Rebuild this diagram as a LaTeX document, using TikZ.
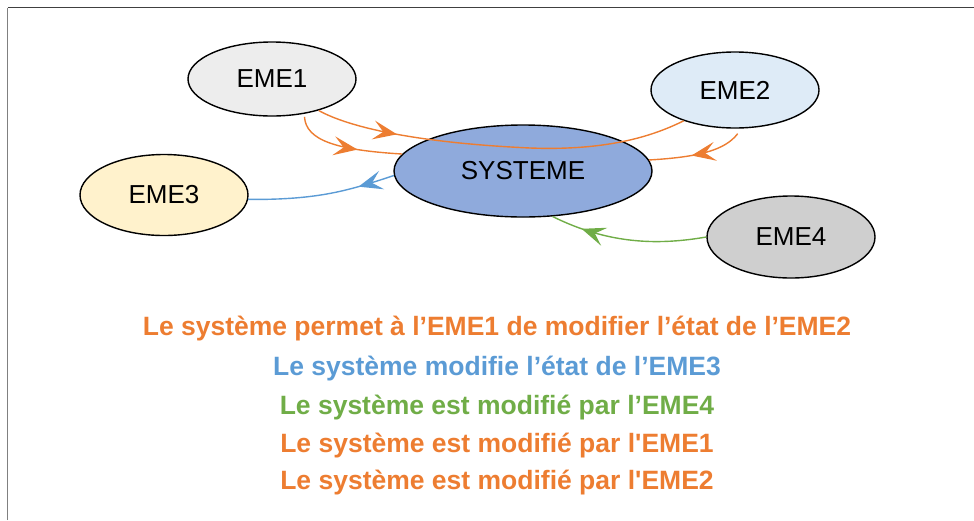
\documentclass[tikz,border=0pt]{standalone}
\usepackage{fontspec}
\setmainfont{Liberation Sans}
\usetikzlibrary{shapes.geometric,arrows.meta,decorations.markings}

\definecolor{emeorange}{HTML}{ED7D31}
\definecolor{emeblue}{HTML}{5B9BD5}
\definecolor{emegreen}{HTML}{70AD47}
\definecolor{sysfill}{HTML}{8FAADC}
\definecolor{eme3fill}{HTML}{FFF2CC}

\begin{document}
\begin{tikzpicture}[x=1pt,y=-1pt,
    eme/.style={ellipse,draw,line width=1.4pt,inner sep=0pt,
      font=\fontsize{26}{30}\selectfont},
    flow/.style={color=#1,line width=1.4pt,postaction={decorate}},
    tipat/.style={decoration={markings,
      mark=at position #1 with {\arrow{Stealth[length=24pt,width=19pt,inset=10pt]}}}},
    caption/.style={font=\bfseries\fontsize{26.5}{30}\selectfont}]
  \useasboundingbox (0,0) rectangle (974,520);
  % frame
  \draw[gray,line width=1.2pt] (7.5,520) -- (7.5,7.5);
  \draw[black!75,line width=1.2pt] (7.5,7.5) -- (974,7.5);

  % the system and its surrounding elements
  \node[eme,fill=black!7,minimum width=168,minimum height=74] (eme1) at (272,79) {EME1};
  \node[eme,fill=emeblue!20,minimum width=168,minimum height=76] (eme2) at (735,90) {EME2};
  \node[eme,fill=eme3fill,minimum width=168,minimum height=81] (eme3) at (164,195) {EME3};
  \node[eme,fill=black!19,minimum width=168,minimum height=82] (eme4) at (791,237) {EME4};
  \node[eme,fill=sysfill,minimum width=258,minimum height=92] (sys) at (523,171) {SYSTEME};

  % relations
  \draw[flow=emeorange,tipat=0.22] (eme1.-34) .. controls (350,128) and (420,143) .. (530,148)
    .. controls (610,151) and (655,135) .. (eme2.-149);
  \draw[flow=emeorange,tipat=0.6] ([yshift=-3pt]eme1.-47) .. controls (306,140) and (335,150) .. (sys.172);
  \draw[flow=emeorange,tipat=0.55] ([yshift=-5pt]eme2.-86) .. controls (725,150) and (700,157) .. (sys.5);
  \draw[flow=emeblue,tipat=0.25] (sys.182) .. controls (350,190) and (320,200) .. (eme3.-3);
  \draw[flow=emegreen,tipat=0.8] (eme4.180) .. controls (660,245) and (610,245) .. (sys.-57);

  % what each relation means
  \node[caption,text=emeorange] (r1) at (497,329) {Le système permet à l’EME1 de modifier l’état de l’EME2};
  \node[caption,text=emeblue] (r2) at (497,369) {Le système modifie l’état de l’EME3};
  \node[caption,text=emegreen] (r3) at (497,408) {Le système est modifié par l’EME4};
  \node[caption,text=emeorange] (r4) at (497,446) {Le système est modifié par l\textquotesingle EME1};
  \node[caption,text=emeorange] (r5) at (497,483) {Le système est modifié par l\textquotesingle EME2};
\end{tikzpicture}
\end{document}
